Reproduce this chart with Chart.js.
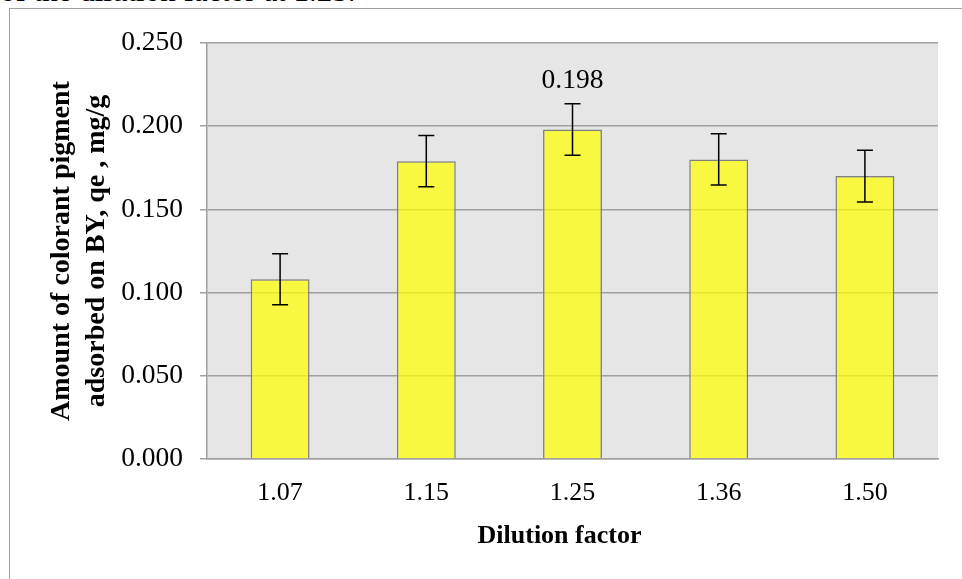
<!DOCTYPE html>
<html>
<head>
<meta charset="utf-8">
<script src="https://cdn.jsdelivr.net/npm/chart.js@4.4.1/dist/chart.umd.min.js"></script>
<style>
    body { margin: 0; background: #fff; overflow: hidden; }
    #wrap { position: relative; width: 962px; height: 579px; overflow: hidden; }
    #frame { position: absolute; left: 9px; top: 8px; width: 2000px; height: 2000px; border-left: 1px solid #a0a0a0; border-top: 1px solid #a0a0a0; }
    #cut { position: absolute; left: 0; top: -25px; font: 31px/31px "Liberation Serif", serif; white-space: nowrap; color: #000; }
    #chartDilucion { position: absolute; left: 0; top: 0; }
</style>
</head>
<body>
<div id="wrap">
    <div id="cut">of the dilution factor at 1.25.</div>
    <div id="frame"></div>
    <canvas id="chartDilucion" width="962" height="579"></canvas>
</div>
<script>
const factores = ['1.07', '1.15', '1.25', '1.36', '1.50'];
const cantidades = [0.108, 0.179, 0.198, 0.180, 0.170];
const errores = [0.0153, 0.0154, 0.0155, 0.0154, 0.0155];
const etiquetaIndice = 2; // solo se rotula la barra de 1.25

const fuente = '"Liberation Serif", "Times New Roman", serif';
const gris = '#a0a0a0';

// fondo gris del área de trazado
const fondoPlot = {
    id: 'fondoPlot',
    beforeDraw(chart) {
        const { ctx, chartArea } = chart;
        ctx.save();
        ctx.fillStyle = '#e6e6e6';
        ctx.fillRect(chartArea.left, chartArea.top, chartArea.right - chartArea.left, chartArea.bottom - chartArea.top);
        ctx.restore();
    }
};

// barras de error y etiqueta del valor
const barrasError = {
    id: 'barrasError',
    afterDatasetsDraw(chart) {
        const { ctx } = chart;
        const y = chart.scales.y;
        const meta = chart.getDatasetMeta(0);
        ctx.save();
        ctx.strokeStyle = '#000';
        ctx.lineWidth = 1.5;
        meta.data.forEach((barra, i) => {
            const x = barra.x;
            const arriba = y.getPixelForValue(cantidades[i] + errores[i]);
            const abajo = y.getPixelForValue(cantidades[i] - errores[i]);
            ctx.beginPath();
            ctx.moveTo(x, arriba);
            ctx.lineTo(x, abajo);
            ctx.moveTo(x - 8, arriba);
            ctx.lineTo(x + 8, arriba);
            ctx.moveTo(x - 8, abajo);
            ctx.lineTo(x + 8, abajo);
            ctx.stroke();
            if (i === etiquetaIndice) {
                ctx.fillStyle = '#000';
                ctx.font = '27.5px ' + fuente;
                ctx.textAlign = 'center';
                ctx.textBaseline = 'middle';
                ctx.fillText(cantidades[i].toFixed(3), x, arriba - 23);
            }
        });
        ctx.restore();
    }
};

const canvas = document.getElementById('chartDilucion');
const context = canvas.getContext('2d');

const chartDilucion = new Chart(context, {
    type: 'bar',
    data: {
        labels: factores,
        datasets: [
            {
                label: 'qe',
                data: cantidades,
                backgroundColor: 'rgba(255,255,0,0.72)',
                borderColor: '#7f7f7f',
                borderWidth: 1.5,
                barPercentage: 0.403,
                categoryPercentage: 1
            }
        ]
    },
    options: {
        responsive: false,
        animation: false,
        layout: {
            padding: { left: 0, top: 43, right: 24, bottom: 0 }
        },
        plugins: {
            legend: { display: false },
            tooltip: { enabled: false }
        },
        scales: {
            x: {
                grid: { display: false, drawTicks: false },
                border: { display: true, color: gris, width: 1.5 },
                ticks: {
                    color: '#000',
                    padding: 19,
                    font: { family: fuente, size: 26 }
                },
                title: {
                    display: true,
                    text: 'Dilution factor    ',
                    color: '#000',
                    padding: { top: 0, bottom: 27 },
                    font: { family: fuente, size: 26, weight: 'bold', lineHeight: 1.2 }
                },
                afterFit: (escala) => { escala.height = 120; }
            },
            y: {
                min: 0,
                max: 0.25,
                grid: { color: gris, lineWidth: 1.5, tickLength: 7 },
                border: { display: true, color: gris, width: 1.5 },
                ticks: {
                    stepSize: 0.05,
                    color: '#000',
                    padding: 17,
                    font: { family: fuente, size: 27.5 },
                    callback: (valor) => valor.toFixed(3)
                },
                title: {
                    display: true,
                    text: ['Amount of colorant pigment', 'adsorbed on BY, qe , mg/g'],
                    color: '#000',
                    padding: { top: 44.5, bottom: 0 },
                    font: { family: fuente, size: 28, weight: 'bold', lineHeight: 1.25 }
                },
                afterFit: (escala) => { escala.width = 207; }
            }
        }
    },
    plugins: [fondoPlot, barrasError]
});
</script>
</body>
</html>
